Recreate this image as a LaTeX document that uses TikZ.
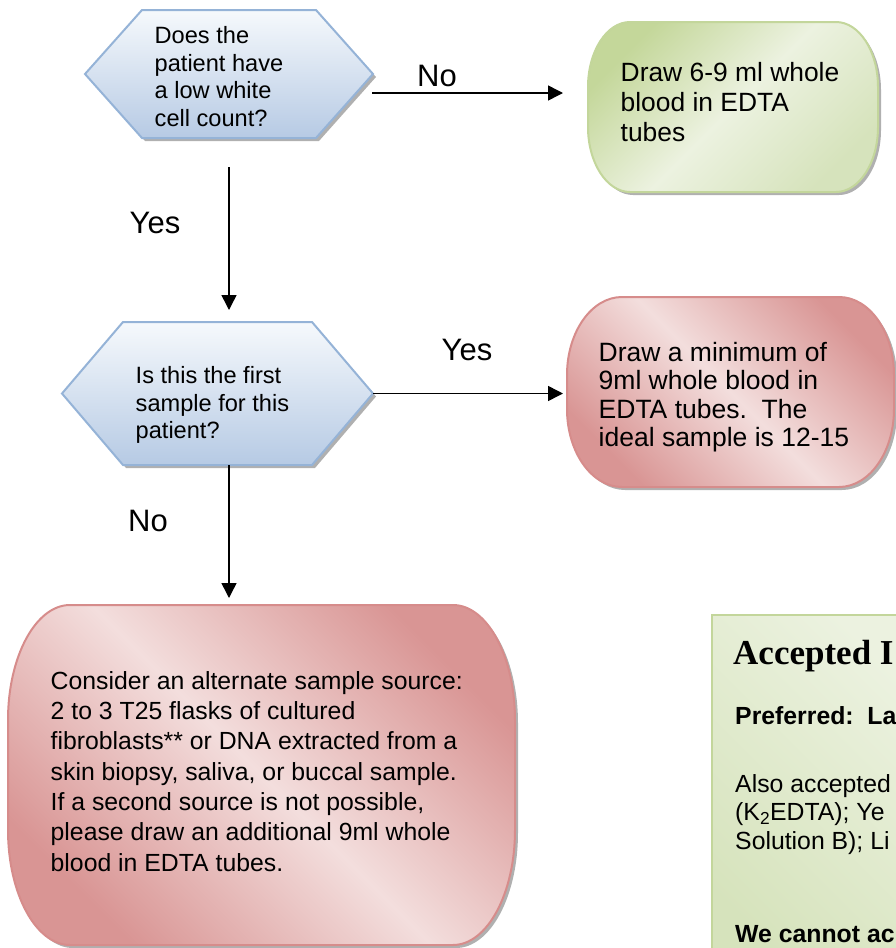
\documentclass[tikz,border=0pt]{standalone}
\usepackage{fontspec}
\setmainfont{Liberation Sans}
\newfontfamily\timesfont{Liberation Serif}
\usetikzlibrary{arrows.meta}

\definecolor{hexborder}{RGB}{149,179,215}
\definecolor{hextop}{RGB}{246,249,252}
\definecolor{hexbot}{RGB}{182,202,228}
\definecolor{grnborder}{RGB}{195,214,155}
\definecolor{grndark}{RGB}{196,215,154}
\definecolor{grnlight}{RGB}{236,242,224}
\definecolor{grnmid}{RGB}{214,227,188}
\definecolor{redborder}{RGB}{214,140,139}
\definecolor{reddark}{RGB}{217,149,148}
\definecolor{redlight}{RGB}{243,222,221}
\definecolor{shadowc}{RGB}{150,150,150}

% rounded box path: L T R B rx ry
\newcommand\rbpath[6]{(#1+#5,#2) -- (#3-#5,#2) .. controls (#3-0.448*#5,#2) and (#3,#2+0.448*#6) .. (#3,#2+#6) -- (#3,#4-#6) .. controls (#3,#4-0.448*#6) and (#3-0.448*#5,#4) .. (#3-#5,#4) -- (#1+#5,#4) .. controls (#1+0.448*#5,#4) and (#1,#4-0.448*#6) .. (#1,#4-#6) -- (#1,#2+#6) .. controls (#1,#2+0.448*#6) and (#1+0.448*#5,#2) .. (#1+#5,#2) -- cycle}
% hexagon path: L T R B d
\newcommand\hexpath[5]{(#1,{(#2+#4)/2}) -- (#1+#5,#2) -- (#3-#5,#2) -- (#3,{(#2+#4)/2}) -- (#3-#5,#4) -- (#1+#5,#4) -- cycle}

\begin{document}
\begin{tikzpicture}[x=1pt,y=-1pt,
  shapebox/.style={rectangle, inner sep=0pt, outer sep=0pt},
  hexshape/.style={top color=hextop, bottom color=hexbot, draw=hexborder, line width=2pt, line join=miter},
  grnshape/.style={top color=grndark, bottom color=grnmid, middle color=grnlight, shading angle=45, draw=grnborder, line width=2pt},
  redshape/.style={top color=reddark, bottom color=reddark, middle color=redlight, shading angle=-45, draw=redborder, line width=2pt},
  shadowfill/.style={fill=shadowc, fill opacity=0.75},
  arr/.style={line width=1.5pt, -{Triangle[length=15pt,width=15pt]}},
  txt/.style={align=left, inner sep=0pt, anchor=base west, text=black},
  hexfont/.style={font=\fontsize{23.6pt}{27.6pt}\selectfont},
  lbl/.style={inner sep=0pt, anchor=base, font=\fontsize{31pt}{36pt}\selectfont}]

\useasboundingbox (0,0) rectangle (896,948);
\clip (0,0) rectangle (896,948);

% ---- hexagon 1
\fill[shadowfill, xshift=3pt, yshift=-3pt] \hexpath{85}{10}{373}{138}{57};
\path[hexshape] \hexpath{85}{10}{373}{138}{57};
\node[shapebox, minimum width=288pt, minimum height=128pt] (q1) at (229,74) {};
\node[txt, hexfont] (q1t) at (154.5,126.5) {Does the\\patient have\\a low white\\cell count?};

% ---- hexagon 2
\fill[shadowfill, xshift=3pt, yshift=-3pt] \hexpath{62}{322}{373}{465}{61};
\path[hexshape] \hexpath{62}{322}{373}{465}{61};
\node[shapebox, minimum width=311pt, minimum height=143pt] (q2) at (217.5,393.5) {};
\node[txt, font=\fontsize{23.6pt}{27.5pt}\selectfont] (q2t) at (135.5,438.5) {Is this the first\\sample for this\\patient?};

% ---- green box
\fill[shadowfill, xshift=3pt, yshift=-3pt] \rbpath{588}{22}{878}{192}{42}{65};
\path[grnshape] \rbpath{588}{22}{878}{192}{42}{65};
\node[shapebox, minimum width=290pt, minimum height=170pt] (g) at (733,107) {};
\node[txt, font=\fontsize{26.4pt}{30pt}\selectfont] (gt) at (620.5,141.5) {Draw 6-9 ml whole\\blood in EDTA\\tubes};

% ---- red box 1
\fill[shadowfill, xshift=3pt, yshift=-3pt] \rbpath{567}{297}{894}{487}{55}{78};
\path[redshape] \rbpath{567}{297}{894}{487}{55}{78};
\node[shapebox, minimum width=327pt, minimum height=190pt] (r1) at (730.5,392) {};
\node[txt, font=\fontsize{26.5pt}{28.4pt}\selectfont] (r1t) at (598.5,446.5) {Draw a minimum of\\9ml whole blood in\\EDTA tubes.\ \ The\\ideal sample is 12-15};

% ---- big red box
\fill[shadowfill, xshift=3pt, yshift=-3pt] \rbpath{8}{605}{515}{945}{62}{115};
\path[redshape] \rbpath{8}{605}{515}{945}{62}{115};
\node[shapebox, minimum width=507pt, minimum height=340pt] (r2) at (261.5,775) {};
\node[txt, font=\fontsize{24.8pt}{30.3pt}\selectfont] (r2t) at (50.5,871) {Consider an alternate sample source:\\2 to 3 T25 flasks of cultured\\fibroblasts** or DNA extracted from a\\skin biopsy, saliva, or buccal sample.\\If a second source is not possible,\\please draw an additional 9ml whole\\blood in EDTA tubes.};

% ---- accepted box
\node[shapebox, anchor=north west, minimum width=210pt, minimum height=360pt,
      top color=grnlight, bottom color=grnmid, shading angle=-45,
      draw=grnborder, line width=2pt] (acc) at (712,615) {};
\node[txt, font=\timesfont\bfseries\fontsize{35pt}{40pt}\selectfont] (acch) at (733,664) {Accepted I};
\node[txt, font=\fontsize{24.8pt}{28.5pt}\selectfont] (accb) at (735,942) {\textbf{Preferred:\ \ La}\\[39.5pt]Also accepted\\(K\textsubscript{2}EDTA); Ye\\Solution B); Li\\[64.5pt]\textbf{We cannot ac}};

% ---- connectors
\coordinate (n1) at (372,93);
\draw[arr, shorten >=25pt] (n1) -- (n1 -| g.west);
\node[lbl] (lno1) at (437,86) {No};

\draw[arr, shorten <=29pt, shorten >=12pt] (q1.south) -- (q1.south |- q2.north);
\node[lbl] (lyes1) at (155,233) {Yes};

\draw[arr, shorten >=4pt] (q2.east) -- (q2.east -| r1.west);
\node[lbl] (lyes2) at (467,360) {Yes};

\draw[arr, shorten >=7pt] (q2.south -| q1.south) -- (q1.south |- r2.north);
\node[lbl] (lno2) at (148,531) {No};

\end{tikzpicture}
\end{document}
